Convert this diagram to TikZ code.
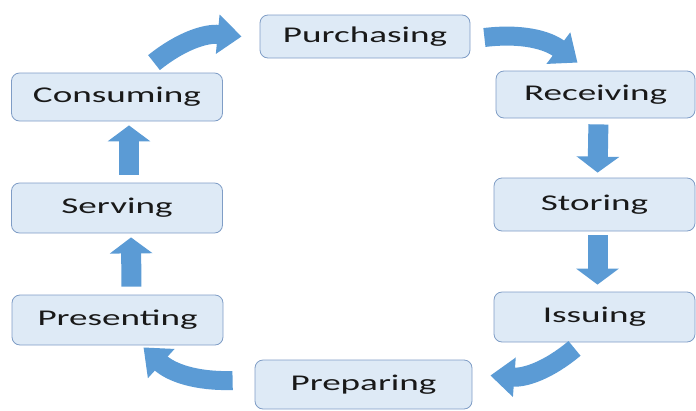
\documentclass[tikz,border=0pt]{standalone}
\usepackage{fontspec}
\usetikzlibrary{arrows.meta}
\newfontfamily\stagefont{Carlito}[FakeStretch=1.65]
\definecolor{stagefill}{HTML}{DEEAF6}
\definecolor{stageline}{HTML}{7F9DC6}
\definecolor{flowblue}{HTML}{5B9BD5}

\begin{document}
\begin{tikzpicture}[x=1pt,y=1pt,
  stage/.style={draw=stageline,fill=stagefill,rounded corners=8pt,line width=0.8pt,
    minimum width=211pt,minimum height=48pt,inner sep=0pt,
    font=\stagefont\fontsize{22.5}{26}\selectfont,text=black!90},
  upflow/.style={draw=flowblue,line width=20pt,-{Triangle[length=16pt,width=42pt]}},
  bendflow/.style={draw=flowblue,line width=19pt,-{Triangle[length=24pt,width=38pt]}}]
\useasboundingbox (0,0) rectangle (696,-410);

\node[stage,minimum width=210pt,minimum height=43pt](purch) at (365,-36.5) {Purchasing};
\node[stage,minimum width=199pt,minimum height=47pt](recv) at (595.5,-94.5) {Receiving};
\node[stage,minimum width=201pt,minimum height=53pt](stor) at (594.5,-204.5) {Storing};
\node[stage,minimum width=201pt,minimum height=50pt](issu) at (594.5,-317) {Issuing};
\node[stage,minimum width=217pt,minimum height=49pt](prep) at (363.5,-384.5) {Preparing};
\node[stage,minimum height=50pt](pres) at (117.5,-320) {Presenting};
\node[stage,minimum height=50pt](serv) at (117,-208) {Serving};
\node[stage](cons) at (117,-97) {Consuming};

\draw[bendflow]([shift={(37,10)}]cons.north) to[bend left=22] ([xshift=-18pt]purch.west);
\draw[bendflow]([shift={(14,-1)}]purch.east) to[bend left=22] ([shift={(-18,8)}]recv.north);
\draw[upflow,shorten <=6pt,shorten >=5pt]([xshift=3pt]recv.south) -- ([xshift=3pt]stor.north);
\draw[upflow,shorten <=4pt,shorten >=7pt]([xshift=3pt]stor.south) -- ([xshift=3pt]issu.north);
\draw[bendflow]([shift={(-20,-6)}]issu.south) to[bend left=22] ([shift={(18,9)}]prep.east);
\draw[bendflow]([shift={(-22,4)}]prep.west) to[bend left=22] ([shift={(26,-2)}]pres.south);
\draw[upflow,shorten <=8pt,shorten >=4pt]([xshift=14pt]pres.north) -- ([xshift=14pt]serv.south);
\draw[upflow,shorten <=8pt,shorten >=4pt]([xshift=12pt]serv.north) -- ([xshift=12pt]cons.south);
\end{tikzpicture}
\end{document}
